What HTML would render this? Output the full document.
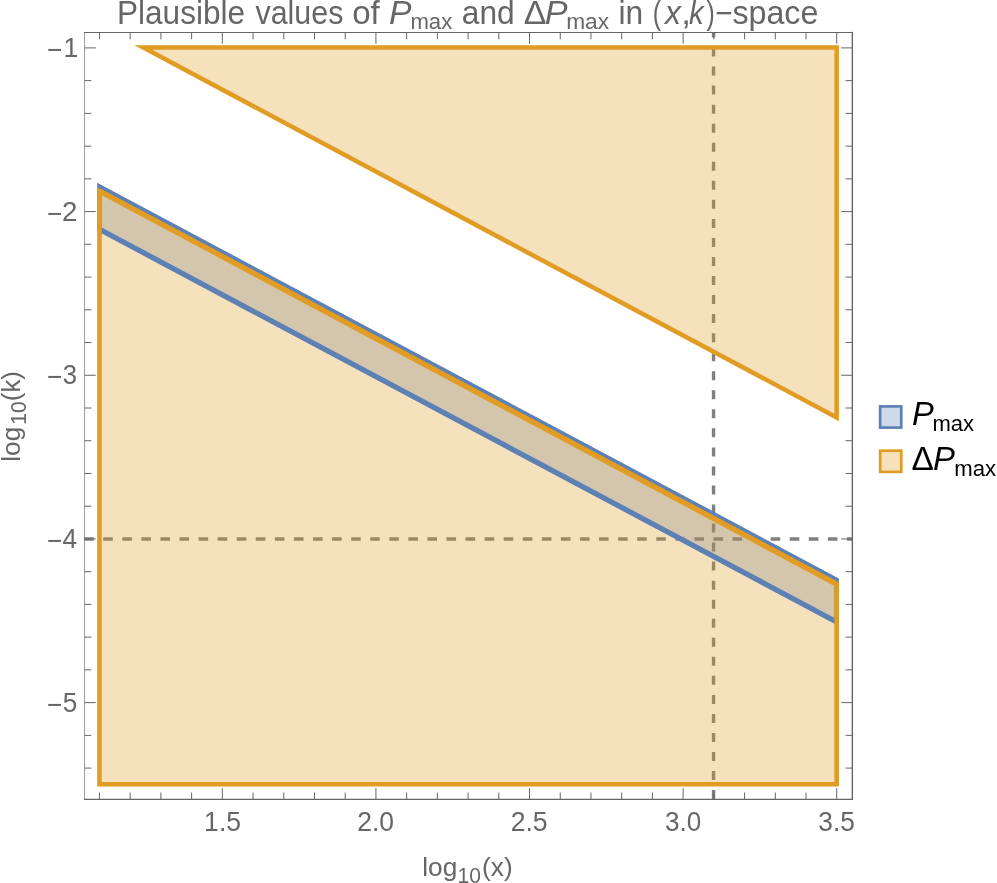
<!DOCTYPE html>
<html lang="en"><head><meta charset="utf-8"><title>Plausible values of Pmax and ΔPmax in (x,k)-space</title>
<style>html,body{margin:0;padding:0;background:#fff;}body{width:997px;height:883px;overflow:hidden;}svg{display:block;}text{font-family:"Liberation Sans",Arial,Helvetica,sans-serif;}.g{fill:#666666;}.k{fill:#000000;}.i{font-style:italic;}</style></head><body>
<svg width="997" height="883" viewBox="0 0 997 883">
<rect x="0" y="0" width="997" height="883" fill="#ffffff"/>
<g stroke="#808080" stroke-width="3.4" fill="none">
<line x1="84.15" y1="538.99" x2="852.35" y2="538.99" stroke-dasharray="9.6 9.47"/>
<line x1="713.55" y1="799.1" x2="713.55" y2="32.50" stroke-dasharray="9 10.04"/>
</g>
<polygon points="99.45,186.50 836.65,579.75 836.65,622.00 99.45,229.30" fill="#5E81B5" fill-opacity="0.3" stroke="none"/>
<polygon points="99.45,191.00 836.65,584.10 836.65,784.30 99.45,784.30" fill="#E19C24" fill-opacity="0.3" stroke="none"/>
<polygon points="143.30,47.50 836.65,47.50 836.65,417.40" fill="#E19C24" fill-opacity="0.3" stroke="none"/>
<polygon points="99.45,186.50 836.65,579.75 836.65,622.00 99.45,229.30" fill="none" stroke="#5E81B5" stroke-width="4.5" stroke-linejoin="miter" stroke-miterlimit="10"/>
<line x1="99.45" y1="229.3" x2="836.65" y2="622.0" stroke="#5E81B5" stroke-width="5.2"/>
<polygon points="99.45,191.00 836.65,584.10 836.65,784.30 99.45,784.30" fill="none" stroke="#E19C24" stroke-width="4.6" stroke-linejoin="miter" stroke-miterlimit="10"/>
<polygon points="143.30,47.50 836.65,47.50 836.65,417.40" fill="none" stroke="#E19C24" stroke-width="4.5" stroke-linejoin="miter" stroke-miterlimit="10"/>
<line x1="99.45" y1="191.0" x2="836.65" y2="584.1" stroke="#E19C24" stroke-width="5.3"/>
<g stroke="#666666" stroke-width="1" fill="none">
<path d="M99.45 799.35V792.55M99.45 32.50V39.30"/>
<path d="M130.17 799.35V792.55M130.17 32.50V39.30"/>
<path d="M160.89 799.35V792.55M160.89 32.50V39.30"/>
<path d="M191.61 799.35V792.55M191.61 32.50V39.30"/>
<path d="M222.33 799.35V788.15M222.33 32.50V43.70"/>
<path d="M253.05 799.35V792.55M253.05 32.50V39.30"/>
<path d="M283.77 799.35V792.55M283.77 32.50V39.30"/>
<path d="M314.49 799.35V792.55M314.49 32.50V39.30"/>
<path d="M345.21 799.35V792.55M345.21 32.50V39.30"/>
<path d="M375.93 799.35V788.15M375.93 32.50V43.70"/>
<path d="M406.65 799.35V792.55M406.65 32.50V39.30"/>
<path d="M437.37 799.35V792.55M437.37 32.50V39.30"/>
<path d="M468.09 799.35V792.55M468.09 32.50V39.30"/>
<path d="M498.81 799.35V792.55M498.81 32.50V39.30"/>
<path d="M529.53 799.35V788.15M529.53 32.50V43.70"/>
<path d="M560.25 799.35V792.55M560.25 32.50V39.30"/>
<path d="M590.97 799.35V792.55M590.97 32.50V39.30"/>
<path d="M621.69 799.35V792.55M621.69 32.50V39.30"/>
<path d="M652.41 799.35V792.55M652.41 32.50V39.30"/>
<path d="M683.13 799.35V788.15M683.13 32.50V43.70"/>
<path d="M713.85 799.35V792.55M713.85 32.50V39.30"/>
<path d="M744.57 799.35V792.55M744.57 32.50V39.30"/>
<path d="M775.29 799.35V792.55M775.29 32.50V39.30"/>
<path d="M806.01 799.35V792.55M806.01 32.50V39.30"/>
<path d="M836.73 799.35V788.15M836.73 32.50V43.70"/>
<path d="M84.55 47.90H95.75M852.35 47.90H841.15"/>
<path d="M84.55 80.64H91.35M852.35 80.64H845.55"/>
<path d="M84.55 113.37H91.35M852.35 113.37H845.55"/>
<path d="M84.55 146.11H91.35M852.35 146.11H845.55"/>
<path d="M84.55 178.84H91.35M852.35 178.84H845.55"/>
<path d="M84.55 211.58H95.75M852.35 211.58H841.15"/>
<path d="M84.55 244.32H91.35M852.35 244.32H845.55"/>
<path d="M84.55 277.05H91.35M852.35 277.05H845.55"/>
<path d="M84.55 309.79H91.35M852.35 309.79H845.55"/>
<path d="M84.55 342.52H91.35M852.35 342.52H845.55"/>
<path d="M84.55 375.26H95.75M852.35 375.26H841.15"/>
<path d="M84.55 408.00H91.35M852.35 408.00H845.55"/>
<path d="M84.55 440.73H91.35M852.35 440.73H845.55"/>
<path d="M84.55 473.47H91.35M852.35 473.47H845.55"/>
<path d="M84.55 506.20H91.35M852.35 506.20H845.55"/>
<path d="M84.55 538.94H95.75M852.35 538.94H841.15"/>
<path d="M84.55 571.68H91.35M852.35 571.68H845.55"/>
<path d="M84.55 604.41H91.35M852.35 604.41H845.55"/>
<path d="M84.55 637.15H91.35M852.35 637.15H845.55"/>
<path d="M84.55 669.88H91.35M852.35 669.88H845.55"/>
<path d="M84.55 702.62H95.75M852.35 702.62H841.15"/>
<path d="M84.55 735.36H91.35M852.35 735.36H845.55"/>
<path d="M84.55 768.09H91.35M852.35 768.09H845.55"/>
</g>
<g stroke="#666666" fill="none" stroke-linecap="square">
<line x1="84.55" y1="32.50" x2="852.35" y2="32.50" stroke-width="1.1"/>
<line x1="84.55" y1="799.35" x2="852.35" y2="799.35" stroke-width="1.15"/>
<line x1="852.35" y1="32.50" x2="852.35" y2="799.35" stroke-width="1.4"/>
<line x1="84.55" y1="32.50" x2="84.55" y2="799.35" stroke-width="0.65"/>
</g>
<text class="g" font-size="26.6px" transform="translate(204.11 830.60) scale(0.9996 1.0650)">1.5</text>
<text class="g" font-size="26.6px" transform="translate(357.28 830.60) scale(0.9958 1.0650)">2.0</text>
<text class="g" font-size="26.6px" transform="translate(510.67 830.60) scale(1.0006 1.0650)">2.5</text>
<text class="g" font-size="26.6px" transform="translate(664.92 830.60) scale(0.9806 1.0650)">3.0</text>
<text class="g" font-size="26.6px" transform="translate(818.31 830.60) scale(0.9882 1.0650)">3.5</text>
<text class="g" font-size="26.6px" transform="translate(46.99 59.10) scale(0.9844 1.0500)">−</text>
<text class="g" font-size="26.6px" transform="translate(63.45 56.90) scale(1.0005 1.0500)">1</text>
<text class="g" font-size="26.6px" transform="translate(46.99 222.78) scale(0.9844 1.0500)">−</text>
<text class="g" font-size="26.6px" transform="translate(61.92 220.58) scale(1.0411 1.0500)">2</text>
<text class="g" font-size="26.6px" transform="translate(46.99 386.46) scale(0.9844 1.0500)">−</text>
<text class="g" font-size="26.6px" transform="translate(62.74 384.26) scale(0.9656 1.0500)">3</text>
<text class="g" font-size="26.6px" transform="translate(46.99 550.14) scale(0.9844 1.0500)">−</text>
<text class="g" font-size="26.6px" transform="translate(62.41 547.94) scale(0.9827 1.0500)">4</text>
<text class="g" font-size="26.6px" transform="translate(46.99 713.82) scale(0.9844 1.0500)">−</text>
<text class="g" font-size="26.6px" transform="translate(62.66 711.62) scale(0.9814 1.0500)">5</text>
<text class="g" font-size="26.6px" transform="translate(422.23 876.45) scale(0.9879 1.0000)">log</text>
<text class="g" font-size="21px" transform="translate(457.42 883.40) scale(1.0025 1.0800)">10</text>
<text class="g" font-size="26.6px" transform="translate(482.06 876.45) scale(0.9868 1.0000)">(x)</text>
<text class="g" font-size="26.6px" transform="translate(20.00 461.72) rotate(-90) scale(0.9879 1.0000)">log</text>
<text class="g" font-size="21px" transform="translate(26.20 424.73) rotate(-90) scale(1.0025 1.0400)">10</text>
<text class="g" font-size="26.6px" transform="translate(20.00 401.17) rotate(-90) scale(0.9724 1.0000)">(k)</text>
<text class="g" font-size="31.5px" transform="translate(117.00 23.70) scale(1.0018 1.0350)">Plausible</text>
<text class="g" font-size="31.5px" transform="translate(255.45 23.70) scale(0.9657 1.0350)">values</text>
<text class="g" font-size="31.5px" transform="translate(352.19 23.70) scale(1.0495 1.0350)">of</text>
<text class="g i" font-size="31.5px" transform="translate(389.09 23.70) scale(1.0733 1.0350)">P</text>
<text class="g" font-size="22.3px" transform="translate(410.40 29.30) scale(0.9935 1.0000)">max</text>
<text class="g" font-size="31.5px" transform="translate(461.75 23.70) scale(1.0077 1.0350)">and</text>
<text class="g" font-size="31.5px" transform="translate(523.68 23.70) scale(1.0765 1.0350)">Δ</text>
<text class="g i" font-size="31.5px" transform="translate(544.87 23.70) scale(1.0884 1.0350)">P</text>
<text class="g" font-size="22.3px" transform="translate(566.16 29.30) scale(1.0207 1.0000)">max</text>
<text class="g" font-size="31.5px" transform="translate(618.55 23.70) scale(1.0090 1.0350)">in</text>
<text class="g" font-size="31.5px" transform="translate(652.75 23.70) scale(0.7861 1.0350)">(</text>
<text class="g i" font-size="31.5px" transform="translate(664.98 23.70) scale(1.0125 1.0350)">x</text>
<text class="g" font-size="31.5px" transform="translate(681.16 23.70) scale(1.1070 1.0350)">,</text>
<text class="g i" font-size="31.5px" transform="translate(688.89 23.70) scale(0.9296 1.0350)">k</text>
<text class="g" font-size="31.5px" transform="translate(706.61 23.70) scale(0.7861 1.0350)">)</text>
<text class="g" font-size="31.5px" transform="translate(715.01 23.70) scale(0.9491 1.0350)">−</text>
<text class="g" font-size="31.5px" transform="translate(732.41 23.70) scale(1.0230 1.0350)">space</text>
<rect x="880.15" y="406.40" width="21.1" height="21.2" fill="#5E81B5" fill-opacity="0.3" stroke="none"/>
<rect x="880.15" y="406.40" width="21.1" height="21.2" fill="none" stroke="#5E81B5" stroke-width="2.7"/>
<rect x="880.15" y="450.70" width="21.1" height="21.2" fill="#E19C24" fill-opacity="0.3" stroke="none"/>
<rect x="880.15" y="450.70" width="21.1" height="21.2" fill="none" stroke="#E19C24" stroke-width="2.7"/>
<text class="k i" font-size="31.5px" transform="translate(912.02 425.30) scale(1.0380 1.0350)">P</text>
<text class="k" font-size="22.3px" transform="translate(932.51 431.30) scale(0.9885 1.0000)">max</text>
<text class="k" font-size="31.5px" transform="translate(911.40 469.70) scale(1.0608 1.0350)">Δ</text>
<text class="k i" font-size="31.5px" transform="translate(933.11 469.70) scale(1.0431 1.0350)">P</text>
<text class="k" font-size="22.3px" transform="translate(954.30 475.60) scale(0.9935 1.0000)">max</text>
</svg></body></html>
